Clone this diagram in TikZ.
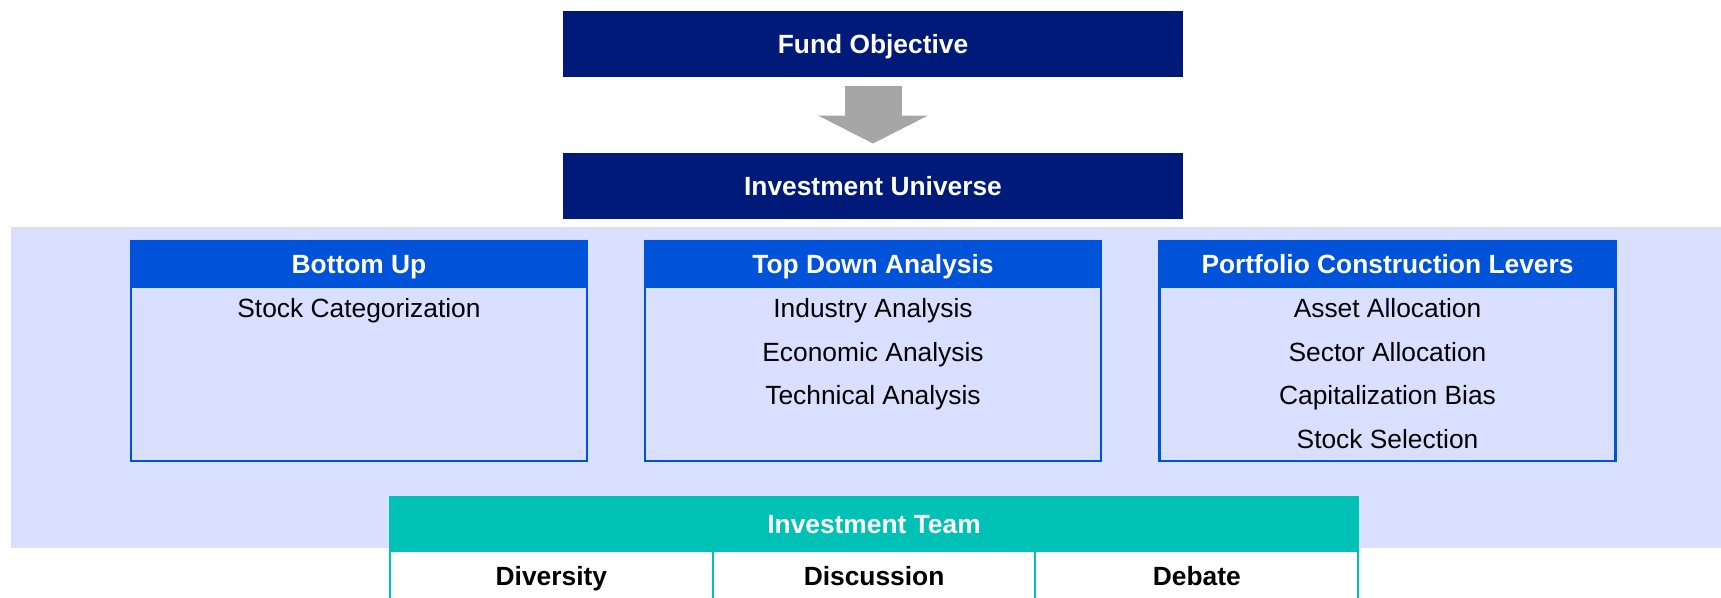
\documentclass[tikz,border=0pt]{standalone}
\usepackage{fontspec}
\setmainfont{Liberation Sans}
\usetikzlibrary{positioning, calc, arrows.meta}
\definecolor{navyhead}{HTML}{001A7A}
\definecolor{headblue}{HTML}{0052D9}
\definecolor{lightbg}{HTML}{D9E0FF}
\definecolor{teamteal}{HTML}{00C1B5}
\definecolor{arrowgray}{HTML}{A6A6A6}
\tikzset{
	every node/.append style={outer sep=0pt, inner sep=0pt},
	topbox/.style={fill=navyhead, text=white, font=\bfseries\fontsize{7.5}{9}\selectfont, minimum width=6.2cm, minimum height=0.66cm, text height=1.9mm, text depth=0pt},
	colhead/.style={fill=headblue, draw=headblue, line width=0.6pt, text=white, font=\bfseries\fontsize{7.5}{9}\selectfont, minimum width=4.56cm, minimum height=0.46cm, text height=1.9mm, text depth=0pt},
	colbody/.style={fill=lightbg, draw=headblue, line width=0.6pt, minimum width=4.56cm, minimum height=1.74cm},
	itemtxt/.style={font=\fontsize{7.5}{9}\selectfont, anchor=base},
	teamhead/.style={fill=teamteal, draw=teamteal, line width=0.6pt, text=white, font=\bfseries\fontsize{7.5}{9}\selectfont, minimum width=9.68cm, minimum height=0.54cm, text height=1.9mm, text depth=0pt},
	teamcell/.style={fill=white, draw=teamteal, line width=0.6pt, font=\bfseries\fontsize{7.5}{9}\selectfont, minimum width=3.227cm, minimum height=0.5cm, text height=1.9mm, text depth=0pt},
	flowarrow/.style={arrowgray, line width=5.7mm, -{Triangle[length=2.8mm, width=10.9mm]}}
}
\begin{document}
\begin{tikzpicture}
	\clip (0,0) rectangle (17.21,-5.97);
	\fill[lightbg] (0.11,-2.27) rectangle (17.21,-5.48);

	\node[topbox] (fund) at (8.73,-0.44) {Fund Objective};
	\node[topbox] (univ) at (8.73,-1.855) {Investment Universe};
	\draw[flowarrow] ($(fund.south)+(0,-0.09)$) -- ($(univ.north)+(0,0.09)$);

	\node[colhead] (bu) at (3.59,-2.64) {Bottom Up};
	\node[colhead] (td) at (8.73,-2.64) {Top Down Analysis};
	\node[colhead] (pcl) at (13.875,-2.64) {Portfolio Construction Levers};
	\node[colbody, below=0pt of bu] (bubody) {};
	\node[colbody, below=0pt of td] (tdbody) {};
	\node[colbody, below=0pt of pcl] (pclbody) {};

	\node[itemtxt] (bu1) at ($(bubody.north)+(0,-0.305)$) {Stock Categorization};
	\foreach \txt [count=\i] in {Industry Analysis, Economic Analysis, Technical Analysis}
		\node[itemtxt] (td\i) at ($(tdbody.north)+(0,{-0.305-0.437*(\i-1)})$) {\txt};
	\foreach \txt [count=\i] in {Asset Allocation, Sector Allocation, Capitalization Bias, Stock Selection}
		\node[itemtxt] (pcl\i) at ($(pclbody.north)+(0,{-0.305-0.437*(\i-1)})$) {\txt};

	\node[teamhead] (team) at (8.74,-5.24) {Investment Team};
	\node[teamcell, anchor=north west] (div) at (team.south west) {Diversity};
	\node[teamcell, right=0pt of div] (disc) {Discussion};
	\node[teamcell, right=0pt of disc] (deb) {Debate};
\end{tikzpicture}
\end{document}
